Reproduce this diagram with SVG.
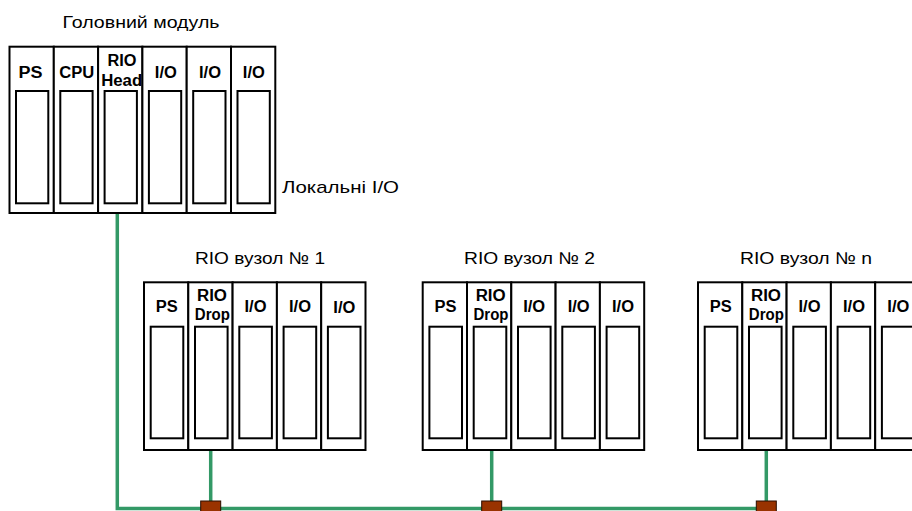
<svg xmlns="http://www.w3.org/2000/svg" width="912" height="511" viewBox="0 0 912 511">
<style>
.slot{fill:#fff;stroke:#000;stroke-width:2}
.win{fill:#fff;stroke:#000;stroke-width:2}
.b{font-family:"Liberation Sans",Arial,sans-serif;font-weight:bold;font-size:16px;text-anchor:middle;fill:#000}
.t{font-family:"Liberation Sans",Arial,sans-serif;font-size:17px;fill:#000}
.bus{fill:none;stroke:#339966;stroke-width:3.5}
.tap{fill:#993300;stroke:#2a0e00;stroke-width:1}
</style>
<defs>
<g id="slotM"><rect class="slot" x="0" y="0" width="44.3" height="166.3"/><rect class="win" x="6.5" y="44.3" width="32.3" height="112.3"/></g>
<g id="slotR"><rect class="slot" x="0" y="0" width="44.3" height="167.7"/><rect class="win" x="6.7" y="44.4" width="32.6" height="111.6"/></g>
</defs>
<g id="connectors">
<polyline class="bus" points="117.3,213 117.3,508.5 766.3,508.5"/>
<line class="bus" x1="210.7" y1="450" x2="210.7" y2="508.5"/>
<line class="bus" x1="491.7" y1="450" x2="491.7" y2="508.5"/>
<line class="bus" x1="766.3" y1="450" x2="766.3" y2="508.5"/>
<rect class="tap" x="200.7" y="501" width="20" height="14"/>
<rect class="tap" x="481.7" y="501" width="20" height="14"/>
<rect class="tap" x="756.3" y="501" width="20" height="14"/>
</g>
<g id="head">
<text class="t" x="62.5" y="28" textLength="157" lengthAdjust="spacingAndGlyphs">Головний модуль</text>
<use href="#slotM" x="9.5" y="46.7"/>
<use href="#slotM" x="53.8" y="46.7"/>
<use href="#slotM" x="98.1" y="46.7"/>
<use href="#slotM" x="142.4" y="46.7"/>
<use href="#slotM" x="186.7" y="46.7"/>
<use href="#slotM" x="231" y="46.7"/>
<text class="b" x="30.6" y="77.5" textLength="24" lengthAdjust="spacingAndGlyphs">PS</text>
<text class="b" x="76.8" y="77.5" textLength="35" lengthAdjust="spacingAndGlyphs">CPU</text>
<text class="b" x="122" y="65.5" textLength="29" lengthAdjust="spacingAndGlyphs">RIO</text>
<text class="b" x="121.7" y="86" textLength="41" lengthAdjust="spacingAndGlyphs">Head</text>
<text class="b" x="165.8" y="77.5" textLength="22" lengthAdjust="spacingAndGlyphs">I/O</text>
<text class="b" x="210" y="77.5" textLength="22" lengthAdjust="spacingAndGlyphs">I/O</text>
<text class="b" x="253.8" y="77.5" textLength="22" lengthAdjust="spacingAndGlyphs">I/O</text>
<text class="t" x="282" y="193" textLength="117" lengthAdjust="spacingAndGlyphs">Локальні I/O</text>
</g>
<g id="drop1">
<text class="t" x="195" y="264" textLength="130" lengthAdjust="spacingAndGlyphs">RIO вузол № 1</text>
<use href="#slotR" x="144" y="282.3"/>
<use href="#slotR" x="188.3" y="282.3"/>
<use href="#slotR" x="232.6" y="282.3"/>
<use href="#slotR" x="276.9" y="282.3"/>
<use href="#slotR" x="321.2" y="282.3"/>
<text class="b" x="166.8" y="311.5" textLength="22" lengthAdjust="spacingAndGlyphs">PS</text>
<text class="b" x="212" y="300.5" textLength="30" lengthAdjust="spacingAndGlyphs">RIO</text>
<text class="b" x="212.3" y="320" textLength="35" lengthAdjust="spacingAndGlyphs">Drop</text>
<text class="b" x="255.5" y="312" textLength="22" lengthAdjust="spacingAndGlyphs">I/O</text>
<text class="b" x="300" y="312" textLength="22" lengthAdjust="spacingAndGlyphs">I/O</text>
<text class="b" x="344.3" y="313" textLength="22" lengthAdjust="spacingAndGlyphs">I/O</text>
</g>
<g id="drop2">
<text class="t" x="464" y="264" textLength="131" lengthAdjust="spacingAndGlyphs">RIO вузол № 2</text>
<use href="#slotR" x="422.7" y="282.3"/>
<use href="#slotR" x="467" y="282.3"/>
<use href="#slotR" x="511.3" y="282.3"/>
<use href="#slotR" x="555.6" y="282.3"/>
<use href="#slotR" x="599.9" y="282.3"/>
<text class="b" x="445.5" y="311.5" textLength="22" lengthAdjust="spacingAndGlyphs">PS</text>
<text class="b" x="490.7" y="300.5" textLength="30" lengthAdjust="spacingAndGlyphs">RIO</text>
<text class="b" x="491" y="320" textLength="35" lengthAdjust="spacingAndGlyphs">Drop</text>
<text class="b" x="534.2" y="312" textLength="22" lengthAdjust="spacingAndGlyphs">I/O</text>
<text class="b" x="578.7" y="312" textLength="22" lengthAdjust="spacingAndGlyphs">I/O</text>
<text class="b" x="623" y="312" textLength="22" lengthAdjust="spacingAndGlyphs">I/O</text>
</g>
<g id="dropn">
<text class="t" x="740" y="264" textLength="132" lengthAdjust="spacingAndGlyphs">RIO вузол № n</text>
<use href="#slotR" x="698" y="282.3"/>
<use href="#slotR" x="742.3" y="282.3"/>
<use href="#slotR" x="786.6" y="282.3"/>
<use href="#slotR" x="830.9" y="282.3"/>
<use href="#slotR" x="875.2" y="282.3"/>
<text class="b" x="720.8" y="311.5" textLength="22" lengthAdjust="spacingAndGlyphs">PS</text>
<text class="b" x="766" y="300.5" textLength="30" lengthAdjust="spacingAndGlyphs">RIO</text>
<text class="b" x="766.3" y="320" textLength="35" lengthAdjust="spacingAndGlyphs">Drop</text>
<text class="b" x="809.5" y="312" textLength="22" lengthAdjust="spacingAndGlyphs">I/O</text>
<text class="b" x="854" y="312" textLength="22" lengthAdjust="spacingAndGlyphs">I/O</text>
<text class="b" x="898.3" y="312" textLength="22" lengthAdjust="spacingAndGlyphs">I/O</text>
</g>
</svg>
